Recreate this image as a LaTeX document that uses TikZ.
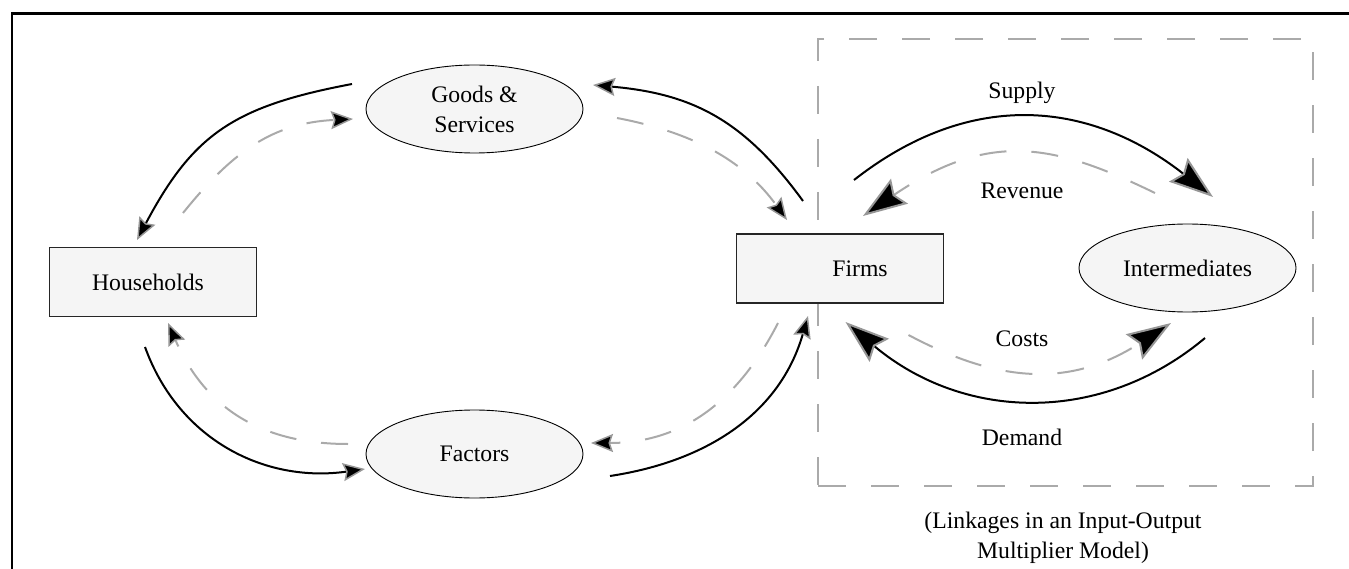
\documentclass[tikz,border=0pt]{standalone}
\usepackage{fontspec}
\setmainfont{Liberation Serif}
\usetikzlibrary{arrows.meta,shapes.geometric}
\definecolor{dashgray}{RGB}{170,170,170}
\definecolor{tipgray}{RGB}{150,150,150}
\definecolor{nodefill}{RGB}{245,245,245}
\begin{document}
\begin{tikzpicture}[x=1pt,y=-1pt,
  txt/.style={font=\fontsize{23.7}{30}\selectfont},
  boxnode/.style={draw=black!85, line width=1.3pt, fill=nodefill, minimum width=207pt, minimum height=69pt, inner sep=0pt, txt},
  ellnode/.style={ellipse, draw=black, line width=0.9pt, fill=nodefill, minimum width=217pt, minimum height=88pt, inner sep=0pt, align=center, txt},
  solidflow/.style={line width=2pt, black},
  dashflow/.style={line width=2pt, dashgray, dash pattern=on 27pt off 25pt},
  smalltip/.style={-{Stealth[length=22pt,width=18pt,inset=3pt,line width=1.5pt,color=tipgray,fill=black]}},
  bigtip/.style={-{Stealth[length=44pt,width=30pt,inset=6pt,line width=2pt,color=tipgray,fill=black]}},
  iobox/.style={draw=dashgray, line width=2pt, dash pattern=on 28pt off 25pt, minimum width=495pt, minimum height=447pt, inner sep=0pt}
]
\useasboundingbox (0,0) rectangle (1349,569);
% frame
\draw[line width=3pt] (12,13.5) -- (1360,13.5);
\draw[line width=2pt] (12,12) -- (12,580);
% dashed input-output box
\node[iobox] (io) at (1065.5,262.5) {};
% nodes
\node[boxnode] (hh) at (153,282) {\hspace*{-10pt}Households};
\node[boxnode] (firms) at (840,268.5) {\hspace*{40pt}Firms};
\node[ellnode] (goods) at (474.5,109) {Goods \&\\Services};
\node[ellnode] (factors) at (474.5,454) {Factors};
\node[ellnode] (inter) at (1187.5,268) {Intermediates};
% labels
\node[txt, anchor=base] (lsupply) at (1022,99) {Supply};
\node[txt, anchor=base] (lrevenue) at (1022,199) {Revenue};
\node[txt, anchor=base] (lcosts) at (1022,346) {Costs};
\node[txt, anchor=base] (ldemand) at (1022,445) {Demand};
\node[txt, align=center] (caption) at (1063,538) {(Linkages in an Input-Output\\Multiplier Model)};
% connector end points
\coordinate (gh1) at (352,84);   \coordinate (gh2) at (137,240);
\coordinate (hg1) at (183,213);  \coordinate (hg2) at (353,119);
\coordinate (fg1) at (803,201);  \coordinate (fg2) at (593,85);
\coordinate (gf1) at (617,118);  \coordinate (gf2) at (787,220);
\coordinate (xf1) at (610,476);  \coordinate (xf2) at (808,316);
\coordinate (fx1) at (778,323);  \coordinate (fx2) at (591,443);
\coordinate (hx1) at (145,347);  \coordinate (hx2) at (365,469);
\coordinate (xh1) at (348,444);  \coordinate (xh2) at (168,323);
\coordinate (sp1) at (854,180);  \coordinate (sp2) at (1213,197);
\coordinate (rv1) at (1155,193); \coordinate (rv2) at (863,216);
\coordinate (cs1) at (908.5,335); \coordinate (cs2) at (1171,323);
\coordinate (dm1) at (1205,338); \coordinate (dm2) at (845.5,322);
% circular flow
\draw[solidflow, smalltip] (gh1) .. controls (234,106.3) and (193.3,134) .. (gh2);
\draw[dashflow, smalltip] (hg1) .. controls (233,151) and (273,123) .. (hg2);
\draw[solidflow, smalltip] (fg1) .. controls (744,120) and (692.6,93.7) .. (fg2);
\draw[dashflow, smalltip] (gf1) .. controls (690.6,132) and (743,159.3) .. (gf2);
\draw[solidflow, smalltip] (xf1) .. controls (709,461) and (780.4,412) .. (xf2);
\draw[dashflow, smalltip] (fx1) .. controls (737,403) and (681,443) .. (fx2);
\draw[solidflow, smalltip] (hx1) .. controls (179,441) and (266,483) .. (hx2);
\draw[dashflow, smalltip] (xh1) .. controls (258,444) and (204,405.5) .. (xh2);
% input-output linkages
\draw[solidflow, bigtip] (sp1) .. controls (974,86) and (1093,103) .. (sp2);
\draw[dashflow, bigtip] (rv1) .. controls (1056,145) and (991,129) .. (rv2);
\draw[dashflow, bigtip] (cs1) .. controls (992.4,379.6) and (1066,390.8) .. (cs2);
\draw[solidflow, bigtip] (dm1) .. controls (1101.6,424.8) and (964.2,421.4) .. (dm2);
\end{tikzpicture}
\end{document}
